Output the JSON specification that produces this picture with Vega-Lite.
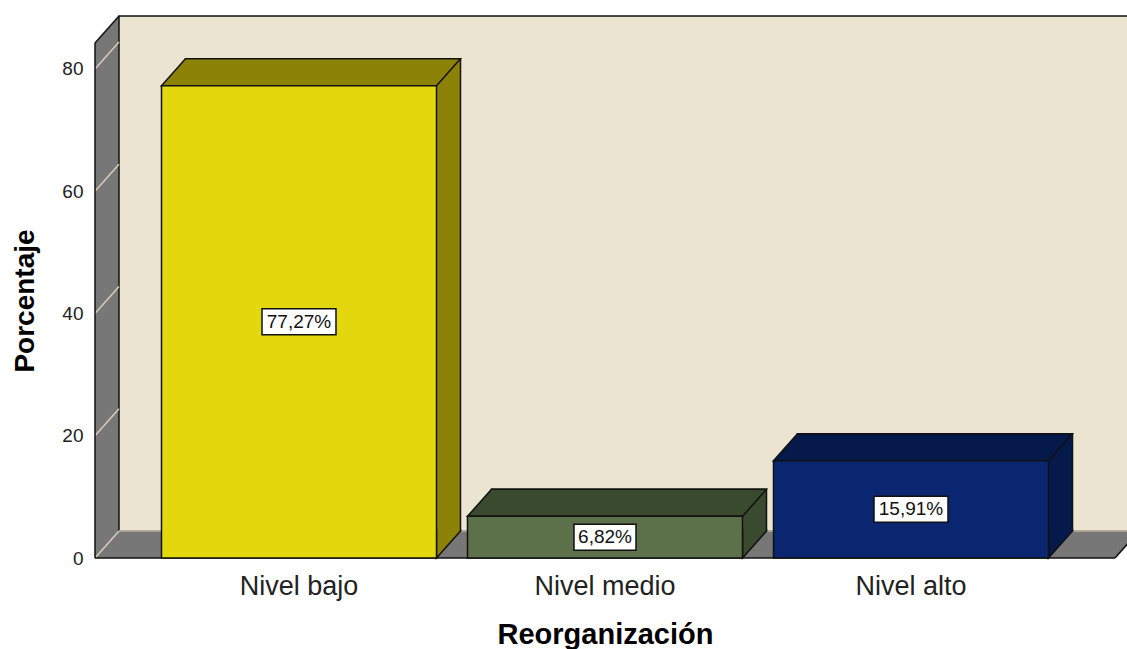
{
  "$schema": "https://vega.github.io/schema/vega-lite/v6.json",
  "width": 1020,
  "height": 515,
  "autosize": {"type": "none"},
  "padding": {"left": 95, "top": 43, "right": 12, "bottom": 91},
  "background": "white",
  "config": {"view": {"stroke": null}, "font": "Liberation Sans"},
  "datasets": {
    "bars": [
      {"categoria": "Nivel bajo", "porcentaje": 77.27, "etiqueta": "77,27%"},
      {"categoria": "Nivel medio", "porcentaje": 6.82, "etiqueta": "6,82%"},
      {"categoria": "Nivel alto", "porcentaje": 15.91, "etiqueta": "15,91%"}
    ],
    "ticks": [{"valor": 0}, {"valor": 20}, {"valor": 40}, {"valor": 60}, {"valor": 80}],
    "marco": [{"lado": "frente"}]
  },
  "layer": [
    {
      "data": {"name": "marco"},
      "layer": [
        {
          "mark": {"type": "rect", "fill": "#777777", "strokeWidth": 0},
          "encoding": {
            "x": {"datum": 0, "type": "quantitative", "scale": {"domain": [0, 1], "nice": false, "zero": false}, "axis": null},
            "x2": {"datum": 1},
            "y": {"datum": 0, "type": "quantitative", "scale": {"domain": [0, 84.25], "nice": false}, "axis": null},
            "y2": {"datum": 84.25}
          }
        },
        {
          "mark": {"type": "point", "shape": "M0,0 L24,-27 L24,0 Z", "size": 4, "filled": true, "fill": "#777777", "strokeWidth": 0, "opacity": 1},
          "encoding": {
            "x": {"datum": 0, "type": "quantitative"},
            "y": {"datum": 84.25, "type": "quantitative"}
          }
        },
        {
          "mark": {"type": "point", "shape": "M0,0 L24,-27 L0,-27 Z", "size": 4, "filled": true, "fill": "#777777", "strokeWidth": 0, "opacity": 1},
          "encoding": {
            "x": {"datum": 1, "type": "quantitative"},
            "y": {"datum": 0, "type": "quantitative"}
          }
        },
        {
          "mark": {"type": "rect", "fill": "#EAE4D1", "stroke": "#111111", "strokeWidth": 1.5, "xOffset": 24, "x2Offset": 24, "yOffset": -27, "y2Offset": -27},
          "encoding": {
            "x": {"datum": 0, "type": "quantitative"},
            "x2": {"datum": 1},
            "y": {"datum": 0, "type": "quantitative"},
            "y2": {"datum": 84.25}
          }
        },
        {
          "data": {"name": "ticks"},
          "mark": {"type": "point", "shape": "M0,0 L24,-27", "size": 4, "filled": false, "stroke": "#D6CEBA", "strokeWidth": 1.5, "opacity": 1},
          "encoding": {
            "x": {"datum": 0, "type": "quantitative"},
            "y": {"field": "valor", "type": "quantitative"}
          }
        },
        {
          "mark": {"type": "rule", "color": "#D6CEBA", "strokeWidth": 1.5, "xOffset": 24, "x2Offset": 24, "yOffset": -27, "y2Offset": -27},
          "encoding": {
            "x": {"datum": 0, "type": "quantitative"},
            "x2": {"datum": 1},
            "y": {"datum": 0, "type": "quantitative"}
          }
        },
        {
          "mark": {"type": "rule", "color": "#111111", "strokeWidth": 1.5},
          "encoding": {
            "x": {"datum": 0, "type": "quantitative"},
            "y": {"datum": 0, "type": "quantitative"},
            "y2": {"datum": 84.25}
          }
        },
        {
          "mark": {"type": "rule", "color": "#111111", "strokeWidth": 1.5},
          "encoding": {
            "x": {"datum": 0, "type": "quantitative"},
            "x2": {"datum": 1},
            "y": {"datum": 0, "type": "quantitative"}
          }
        },
        {
          "mark": {"type": "point", "shape": "M0,0 L24,-27", "size": 4, "filled": false, "stroke": "#111111", "strokeWidth": 1.5, "opacity": 1},
          "encoding": {
            "x": {"datum": 0, "type": "quantitative"},
            "y": {"datum": 84.25, "type": "quantitative"}
          }
        },
        {
          "mark": {"type": "point", "shape": "M0,0 L24,-27", "size": 4, "filled": false, "stroke": "#111111", "strokeWidth": 1.5, "opacity": 1},
          "encoding": {
            "x": {"datum": 1, "type": "quantitative"},
            "y": {"datum": 0, "type": "quantitative"}
          }
        }
      ]
    },
    {
      "data": {"name": "bars"},
      "encoding": {
        "x": {
          "field": "categoria", "type": "nominal", "sort": null,
          "scale": {"type": "band", "paddingInner": 0.1013, "paddingOuter": 0.2173},
          "axis": {
            "orient": "bottom", "title": "Reorganización", "domain": false, "ticks": false, "tickSize": 0,
            "labelFontSize": 27, "labelFont": "Liberation Sans", "labelColor": "#222222", "labelAngle": 0,
            "labelPadding": 36, "labelBaseline": "alphabetic",
            "titleFontSize": 29, "titleFont": "Liberation Sans", "titleFontWeight": "bold", "titleColor": "#000000",
            "titleBaseline": "alphabetic", "titleY": 85
          }
        },
        "y": {
          "field": "porcentaje", "type": "quantitative",
          "scale": {"domain": [0, 84.25], "nice": false},
          "axis": {
            "orient": "left", "values": [0, 20, 40, 60, 80], "domain": false, "ticks": false, "tickSize": 0, "grid": false,
            "labelFontSize": 19, "labelFont": "Liberation Sans", "labelColor": "#222222", "labelPadding": 12,
            "title": "Porcentaje", "titleFontSize": 28, "titleFont": "Liberation Sans", "titleFontWeight": "bold", "titleColor": "#000000",
            "titleAngle": -90, "titleBaseline": "alphabetic", "titleAlign": "center", "titleX": -62, "titleY": 257.5
          }
        }
      },
      "layer": [
        {
          "mark": {"type": "bar", "xOffset": 24, "yOffset": -27, "y2Offset": -27, "stroke": "#111111", "strokeWidth": 1.5},
          "encoding": {
            "fill": {"field": "categoria", "type": "nominal", "scale": {"domain": ["Nivel bajo", "Nivel medio", "Nivel alto"], "range": ["#8C8208", "#3A4A2E", "#06194B"]}, "legend": null}
          }
        },
        {
          "mark": {"type": "point", "shape": "M-137.5,0 L137.5,0 L161.5,-27 L-113.5,-27 Z", "size": 4, "filled": true, "stroke": "#111111", "strokeWidth": 1.5, "opacity": 1},
          "encoding": {
            "fill": {"field": "categoria", "type": "nominal", "scale": {"domain": ["Nivel bajo", "Nivel medio", "Nivel alto"], "range": ["#8C8208", "#3A4A2E", "#06194B"]}, "legend": null}
          }
        },
        {
          "mark": {"type": "point", "shape": "M161.5,-29 L161.5,-27 L137.5,0 L137.5,-29", "size": 4, "filled": true, "stroke": "#111111", "strokeWidth": 1.5, "opacity": 1},
          "encoding": {
            "y": {"datum": 0, "type": "quantitative"},
            "fill": {"field": "categoria", "type": "nominal", "scale": {"domain": ["Nivel bajo", "Nivel medio", "Nivel alto"], "range": ["#8C8208", "#3A4A2E", "#06194B"]}, "legend": null}
          }
        },
        {
          "mark": {"type": "bar", "stroke": "#111111", "strokeWidth": 1.5},
          "encoding": {
            "fill": {"field": "categoria", "type": "nominal", "scale": {"domain": ["Nivel bajo", "Nivel medio", "Nivel alto"], "range": ["#E3D80E", "#5C7049", "#0A2670"]}, "legend": null}
          }
        }
      ],
      "resolve": {"scale": {"fill": "independent"}}
    },
    {
      "data": {"name": "bars"},
      "encoding": {
        "x": {"field": "categoria", "type": "nominal", "sort": null, "scale": {"type": "band", "paddingInner": 0.1013, "paddingOuter": 0.2173}, "axis": null},
        "y": {"field": "porcentaje", "type": "quantitative", "scale": {"domain": [0, 168.5], "nice": false}, "axis": null}
      },
      "layer": [
        {
          "mark": {"type": "point", "size": 4, "filled": true, "fill": "white", "stroke": "#111111", "strokeWidth": 1.5, "opacity": 1},
          "encoding": {
            "shape": {"condition": {"test": "datum.porcentaje < 10", "value": "M-31,-13 L31,-13 L31,13 L-31,13 Z"}, "value": "M-37,-13 L37,-13 L37,13 L-37,13 Z"}
          }
        },
        {
          "mark": {"type": "text", "fontSize": 19, "font": "Liberation Sans", "color": "#111111", "align": "center", "baseline": "middle"},
          "encoding": {"text": {"field": "etiqueta"}}
        }
      ]
    }
  ],
  "resolve": {"scale": {"x": "independent", "y": "independent"}}
}
